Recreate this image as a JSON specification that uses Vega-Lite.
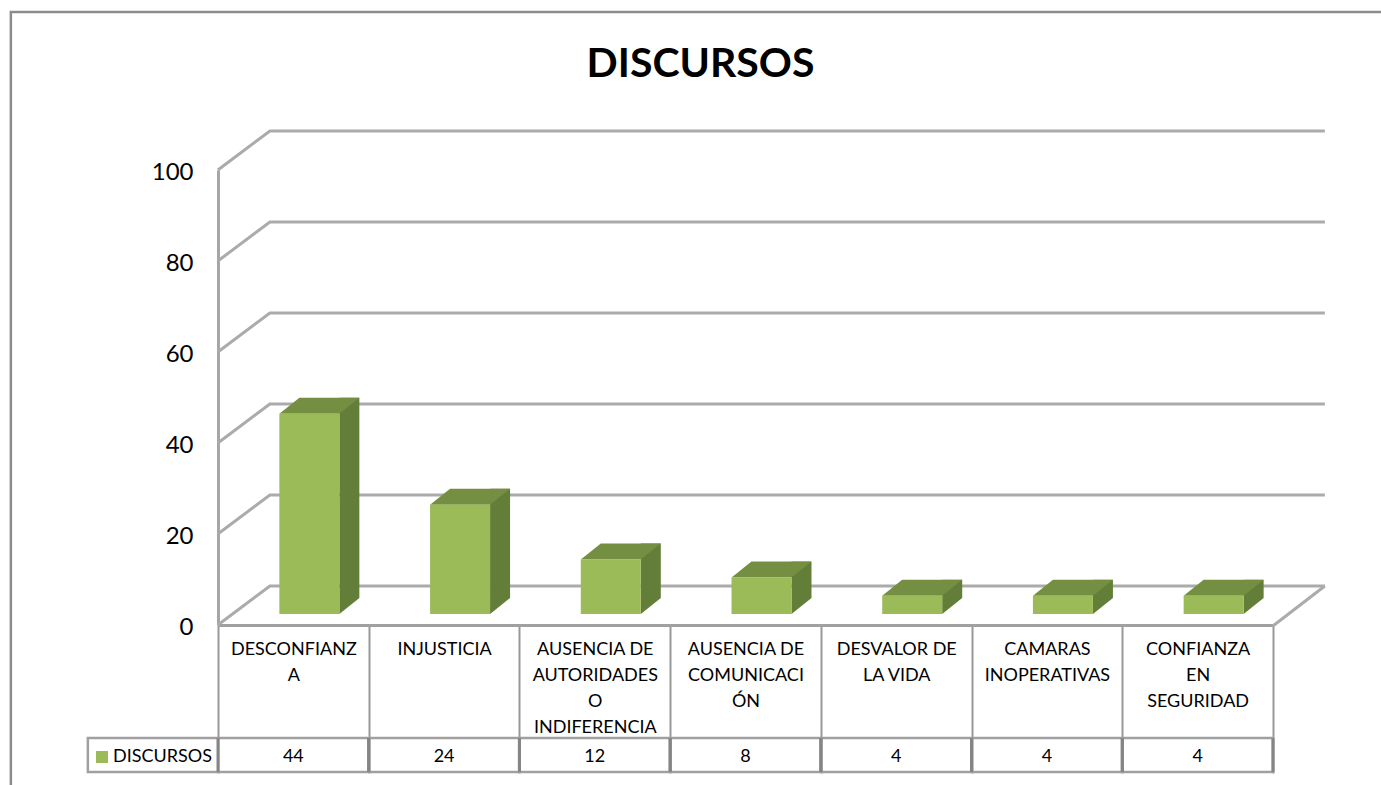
{
  "$schema": "https://vega.github.io/schema/vega-lite/v6.json",
  "width": 1055,
  "height": 455,
  "autosize": {"type": "none"},
  "padding": {"left": 218, "top": 170, "right": 108, "bottom": 160},
  "background": "white",
  "title": {"text": "DISCURSOS", "font": "Lato", "fontSize": 41, "fontWeight": "bold", "color": "#000000", "anchor": "middle", "dx": -45, "offset": -79},
  "config": {"view": {"stroke": null}},
  "datasets": {
    "barras": [
      {"categoria": "DESCONFIANZ\nA", "valor": 44, "serie": "DISCURSOS"},
      {"categoria": "INJUSTICIA", "valor": 24, "serie": "DISCURSOS"},
      {"categoria": "AUSENCIA DE\nAUTORIDADES\nO\nINDIFERENCIA", "valor": 12, "serie": "DISCURSOS"},
      {"categoria": "AUSENCIA DE\nCOMUNICACI\nÓN", "valor": 8, "serie": "DISCURSOS"},
      {"categoria": "DESVALOR DE\nLA VIDA", "valor": 4, "serie": "DISCURSOS"},
      {"categoria": "CAMARAS\nINOPERATIVAS", "valor": 4, "serie": "DISCURSOS"},
      {"categoria": "CONFIANZA\nEN\nSEGURIDAD", "valor": 4, "serie": "DISCURSOS"}
    ],
    "escala": [{"marca": 0}, {"marca": 20}, {"marca": 40}, {"marca": 60}, {"marca": 80}, {"marca": 100}],
    "ancla": [{"marca": 0}]
  },
  "data": {"name": "barras"},
  "encoding": {
    "x": {
      "field": "categoria", "type": "nominal", "sort": null, "title": null,
      "scale": {"type": "band", "paddingInner": 0, "paddingOuter": 0, "domain": ["DESCONFIANZ\nA", "INJUSTICIA", "AUSENCIA DE\nAUTORIDADES\nO\nINDIFERENCIA", "AUSENCIA DE\nCOMUNICACI\nÓN", "DESVALOR DE\nLA VIDA", "CAMARAS\nINOPERATIVAS", "CONFIANZA\nEN\nSEGURIDAD"]},
      "axis": {
        "orient": "bottom", "tickBand": "extent", "tickSize": 148, "tickColor": "#989898", "tickWidth": 2,
        "domainColor": "#a0a0a0", "domainWidth": 3, "labelAngle": 0, "labelAlign": "center", "labelBaseline": "top",
        "labelPadding": -133, "labelFont": "Lato", "labelFontSize": 18, "labelColor": "#000000", "labelLineHeight": 26,
        "labelExpr": "split(datum.label, '\\n')", "labelOverlap": false, "labelLimit": 0, "labelBound": false, "labelFlush": false
      }
    },
    "y": {
      "field": "valor", "type": "quantitative", "title": null,
      "scale": {"domain": [0, 100], "nice": false},
      "axis": {
        "values": [0, 20, 40, 60, 80, 100], "grid": false, "ticks": false, "domainColor": "#a6a6a6", "domainWidth": 3,
        "labelPadding": 25, "labelFont": "Lato", "labelFontSize": 24, "labelColor": "#000000", "labelOffset": 2
      }
    }
  },
  "layer": [
    {
      "data": {"name": "escala"},
      "mark": {"type": "point", "shape": "M-75.5,0 L-23.5,-39 H1031.5", "size": 4, "filled": false, "stroke": "#ababab", "strokeWidth": 3, "opacity": 1},
      "encoding": {"x": {"datum": "DESCONFIANZ\nA"}, "y": {"field": "marca", "type": "quantitative"}}
    },
    {
      "data": {"name": "ancla"},
      "mark": {"type": "point", "shape": "M979.5,1 L1031.5,-39", "size": 4, "filled": false, "stroke": "#ababab", "strokeWidth": 3, "opacity": 1},
      "encoding": {"x": {"datum": "DESCONFIANZ\nA"}, "y": {"field": "marca", "type": "quantitative"}}
    },
    {
      "data": {"name": "ancla"},
      "mark": {"type": "point", "shape": "M-282.5,165 V-613 H1100", "size": 4, "filled": false, "stroke": "#8c8c8c", "strokeWidth": 2.5, "opacity": 1},
      "encoding": {"x": {"datum": "DESCONFIANZ\nA"}, "y": {"field": "marca", "type": "quantitative"}}
    },
    {
      "data": {"name": "ancla"},
      "mark": {"type": "point", "shape": "M-205.5,113 H979.5 V147 H-205.5 Z", "size": 4, "filled": false, "stroke": "#a0a0a0", "strokeWidth": 2.5, "opacity": 1},
      "encoding": {"x": {"datum": "DESCONFIANZ\nA"}, "y": {"field": "marca", "type": "quantitative"}}
    },
    {
      "mark": {"type": "point", "shape": "M-75.35,113 V147 M75.35,113 V147", "size": 4, "filled": false, "stroke": "#858585", "strokeWidth": 3, "opacity": 1},
      "encoding": {"y": {"datum": 0}}
    },
    {
      "mark": {"type": "bar", "width": 20, "xOffset": 56, "yOffset": -27, "y2Offset": -27, "color": "#637E38"},
      "encoding": {"y2": {"datum": 0}}
    },
    {
      "mark": {"type": "point", "shape": "M46,-11 L46,-27 L66,-27 Z", "size": 4, "filled": true, "fill": "#637E38", "strokeWidth": 0, "opacity": 1},
      "encoding": {"y": {"datum": 0}}
    },
    {
      "mark": {"type": "point", "shape": "M-14,-11 L46,-11 L66,-27 L6,-27 Z", "size": 4, "filled": true, "fill": "#748F42", "strokeWidth": 0, "opacity": 1}
    },
    {
      "mark": {"type": "bar", "width": 60, "xOffset": 16, "yOffset": -11, "y2Offset": -11},
      "encoding": {
        "y2": {"datum": 0},
        "color": {
          "field": "serie", "type": "nominal", "title": null,
          "scale": {"range": ["#9BBB59"]},
          "legend": {"orient": "none", "legendX": -125, "legendY": 578, "padding": 0, "symbolType": "square", "symbolSize": 144, "symbolStrokeWidth": 0, "labelFont": "Lato", "labelFontSize": 18, "labelColor": "#000000", "labelOffset": 2, "labelLimit": 0}
        }
      }
    },
    {
      "mark": {"type": "text", "font": "Lato", "fontSize": 18, "color": "#000000", "yOffset": 132, "baseline": "middle", "align": "center"},
      "encoding": {"y": {"datum": 0}, "text": {"field": "valor", "type": "quantitative"}}
    }
  ]
}
